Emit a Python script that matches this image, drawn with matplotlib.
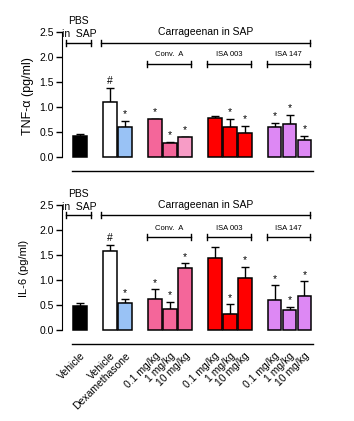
import matplotlib
matplotlib.use("Agg")
import matplotlib.pyplot as plt
import numpy as np

plt.rcParams['font.family'] = ['Liberation Sans', 'DejaVu Sans']

# --- data ---
positions = [0, 2, 3, 5, 6, 7, 9, 10, 11, 13, 14, 15]
tick_labels = ["Vehicle", "Vehicle", "Dexamethasone",
               "0.1 mg/kg", "1 mg/kg", "10 mg/kg",
               "0.1 mg/kg", "1 mg/kg", "10 mg/kg",
               "0.1 mg/kg", "1 mg/kg", "10 mg/kg"]
tnf_colors = ["black", "white", "#99c2f5",
              "#f4669a", "#f4669a", "#f79cc6",
              "#ff0000", "#ff0000", "#ff0000",
              "#dd88f4", "#dd88f4", "#dd88f4"]
il6_colors = ["black", "white", "#99c2f5",
              "#f4669a", "#f4669a", "#f4669a",
              "#ff0000", "#ff0000", "#ff0000",
              "#dd88f4", "#dd88f4", "#dd88f4"]

tnf = [0.42, 1.10, 0.60, 0.76, 0.29, 0.41, 0.79, 0.60, 0.49, 0.60, 0.67, 0.35]
tnf_err = [0.04, 0.29, 0.13, 0.0, 0.02, 0.0, 0.04, 0.16, 0.14, 0.09, 0.18, 0.08]
tnf_marks = ["", "#", "*", "*", "*", "*", "", "*", "*", "*", "*", "*"]

il6 = [0.47, 1.58, 0.53, 0.61, 0.42, 1.23, 1.43, 0.32, 1.04, 0.59, 0.39, 0.67]
il6_err = [0.06, 0.12, 0.08, 0.20, 0.14, 0.10, 0.22, 0.19, 0.22, 0.30, 0.07, 0.30]
il6_marks = ["", "#", "*", "*", "*", "*", "", "*", "*", "*", "*", "*"]

groups = [("Conv.  A", 5, 7), ("ISA 003", 9, 11), ("ISA 147", 13, 15)]

fig = plt.figure(figsize=(3.54, 4.21), dpi=100)
ax_top = fig.add_axes([0.175, 0.5855, 0.757, 0.374])
ax_bot = fig.add_axes([0.175, 0.1753, 0.757, 0.374])


def draw_panel(ax, vals, errs, marks, colors, ylabel, ylabel_size, pad,
               sub_label_y, show_labels):
    ax.bar(positions, vals, width=0.93, color=colors, edgecolor="black",
           linewidth=1.1, zorder=2)
    ax.errorbar(positions, vals, yerr=[np.zeros(len(errs)), errs], fmt="none",
                ecolor="black", elinewidth=1.0, capsize=3, capthick=1.0, zorder=1)
    for x, v, e, m in zip(positions, vals, errs, marks):
        if m:
            ax.text(x, v + e + 0.03, m, ha="center", va="bottom", fontsize=7.5)

    ax.set_xlim(-1.2, 16.7)
    ax.set_ylim(-0.35, 2.8)
    ax.set_yticks([0, 0.5, 1.0, 1.5, 2.0, 2.5])
    ax.set_yticklabels(["0.0", "0.5", "1.0", "1.5", "2.0", "2.5"], fontsize=7.5)
    ax.tick_params(axis="y", direction="out", length=4, width=1, pad=2)
    ax.spines["left"].set_bounds(0, 2.5)
    ax.spines["top"].set_visible(False)
    ax.spines["right"].set_visible(False)
    ax.spines["bottom"].set_position(("data", -0.28))
    ax.spines["bottom"].set_bounds(-0.53, 15.6)
    ax.spines["bottom"].set_linewidth(1.0)
    ax.set_ylabel(ylabel, fontsize=ylabel_size, labelpad=pad)

    ax.set_xticks(positions)
    if show_labels:
        ax.set_xticklabels(tick_labels, rotation=45, ha="right",
                           rotation_mode="anchor", fontsize=7.5)
        ax.tick_params(axis="x", length=0, pad=5)
    else:
        ax.set_xticklabels([])
        ax.tick_params(axis="x", length=0)

    # group brackets
    def bracket(x0, x1, y):
        ax.plot([x0, x1], [y, y], color="black", lw=1.0, clip_on=False)
        for xe in (x0, x1):
            ax.plot([xe, xe], [y - 0.06, y + 0.06], color="black", lw=1.0,
                    clip_on=False)

    bracket(-0.94, 0.73, 2.29)
    ax.text(-0.07, 2.72, "PBS", ha="center", va="center", fontsize=7.5)
    ax.text(-0.07, 2.46, "in  SAP", ha="center", va="center", fontsize=7.5)
    bracket(1.38, 15.4, 2.29)
    ax.text(8.4, 2.5, "Carrageenan in SAP", ha="center", va="center",
            fontsize=7.5)
    for name, g0, g1 in groups:
        bracket(g0 - 0.5, g1 + 0.4, sub_label_y)
        ax.text((g0 + g1) / 2 - 0.05, sub_label_y + 0.18, name, ha="center",
                va="center", fontsize=5.5)


draw_panel(ax_top, tnf, tnf_err, tnf_marks, tnf_colors, "TNF-\u03b1 (pg/ml)",
           9, 4, 1.87, False)
draw_panel(ax_bot, il6, il6_err, il6_marks, il6_colors, "IL-6 (pg/ml)",
           8, 7, 1.85, True)

fig.savefig("out.png", dpi=100)
